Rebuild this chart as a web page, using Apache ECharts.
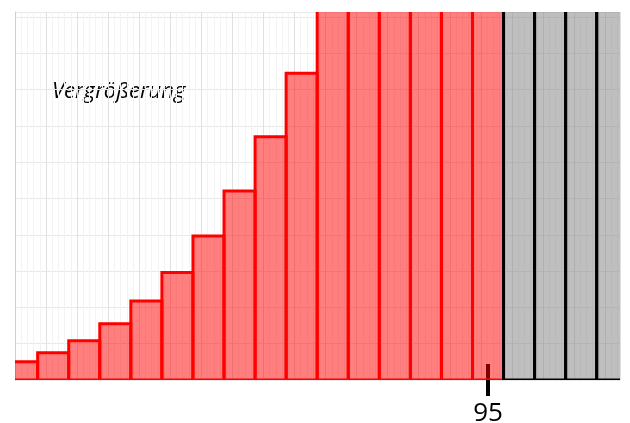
<!DOCTYPE html>
<html>
<head>
<meta charset="utf-8">
<script src="https://cdn.jsdelivr.net/npm/echarts@6/dist/echarts.min.js"></script>
<style>
  html, body { margin: 0; padding: 0; background: #fff; }
  #chart { width: 630px; height: 423px; }
</style>
</head>
<body>
<div id="chart"></div>
<script>
// bin centres and heights (zoomed-in view, tall bins are cut off at the top)
const redBins = [80, 81, 82, 83, 84, 85, 86, 87, 88, 89, 90, 91, 92, 93, 94, 95]
const redValues = [0.5, 0.75, 1.08, 1.55, 2.18, 2.96, 3.97, 5.21, 6.7, 8.45, 10.6, 13, 15.5, 18, 21, 24]
const greyBins = [96, 97, 98, 99]
const greyValues = [27, 30, 33, 36]
const tickValues = [95]
const note = 'Vergrößerung'

const xMin = 79.77
const xMax = 99.25
const yMax = 10.14

const chart = echarts.init(document.getElementById('chart'))

function renderBin(params, api) {
  const x = api.value(0)
  const y = api.value(1)
  const p0 = api.coord([x - 0.5, y])
  const p1 = api.coord([x + 0.5, 0])
  return {
    type: 'rect',
    shape: { x: p0[0], y: p0[1], width: p1[0] - p0[0], height: p1[1] - p0[1] },
    style: api.style()
  }
}

chart.setOption({
  animation: false,
  grid: { left: 15, right: 10, top: 12, bottom: 43, outerBoundsMode: 'none' },
  xAxis: [
    {
      type: 'value',
      min: xMin,
      max: xMax,
      interval: 1,
      axisLine: { show: false },
      axisTick: { show: false },
      axisLabel: { show: false },
      splitLine: { show: true, lineStyle: { color: '#e0e0e0', width: 1 } },
      minorTick: { show: false, splitNumber: 5 },
      minorSplitLine: { show: true, lineStyle: { color: '#f3f3f3', width: 1 } }
    },
    {
      type: 'value',
      min: xMin,
      max: xMax,
      position: 'bottom',
      offset: -16,
      axisLine: { show: false },
      splitLine: { show: false },
      axisTick: {
        show: true,
        customValues: tickValues,
        length: 32,
        lineStyle: { color: '#000', width: 4 }
      },
      axisLabel: {
        show: true,
        customValues: tickValues,
        margin: 37,
        fontSize: 26,
        color: '#000',
        fontFamily: 'Open Sans'
      }
    }
  ],
  yAxis: {
    type: 'value',
    min: 0,
    max: yMax,
    interval: 1,
    axisLine: { show: true, lineStyle: { color: '#cfcfcf', width: 1 } },
    axisTick: { show: false },
    axisLabel: { show: false },
    splitLine: { show: true, lineStyle: { color: '#e8e8e8', width: 1 } }
  },
  graphic: [
    {
      type: 'text',
      left: 52,
      top: 81,
      style: {
        text: note,
        fill: '#000',
        fontFamily: 'Open Sans',
        fontStyle: 'italic',
        fontSize: 22
      }
    }
  ],
  series: [
    {
      type: 'custom',
      clip: true,
      renderItem: renderBin,
      itemStyle: { color: 'rgba(255, 0, 0, 0.5)', borderColor: '#ff0000', borderWidth: 3 },
      data: redBins.map((b, i) => [b, redValues[i]])
    },
    {
      type: 'custom',
      clip: true,
      renderItem: renderBin,
      itemStyle: { color: 'rgba(128, 128, 128, 0.5)', borderColor: '#000', borderWidth: 3 },
      data: greyBins.map((b, i) => [b, greyValues[i]])
    }
  ]
})
</script>
</body>
</html>
